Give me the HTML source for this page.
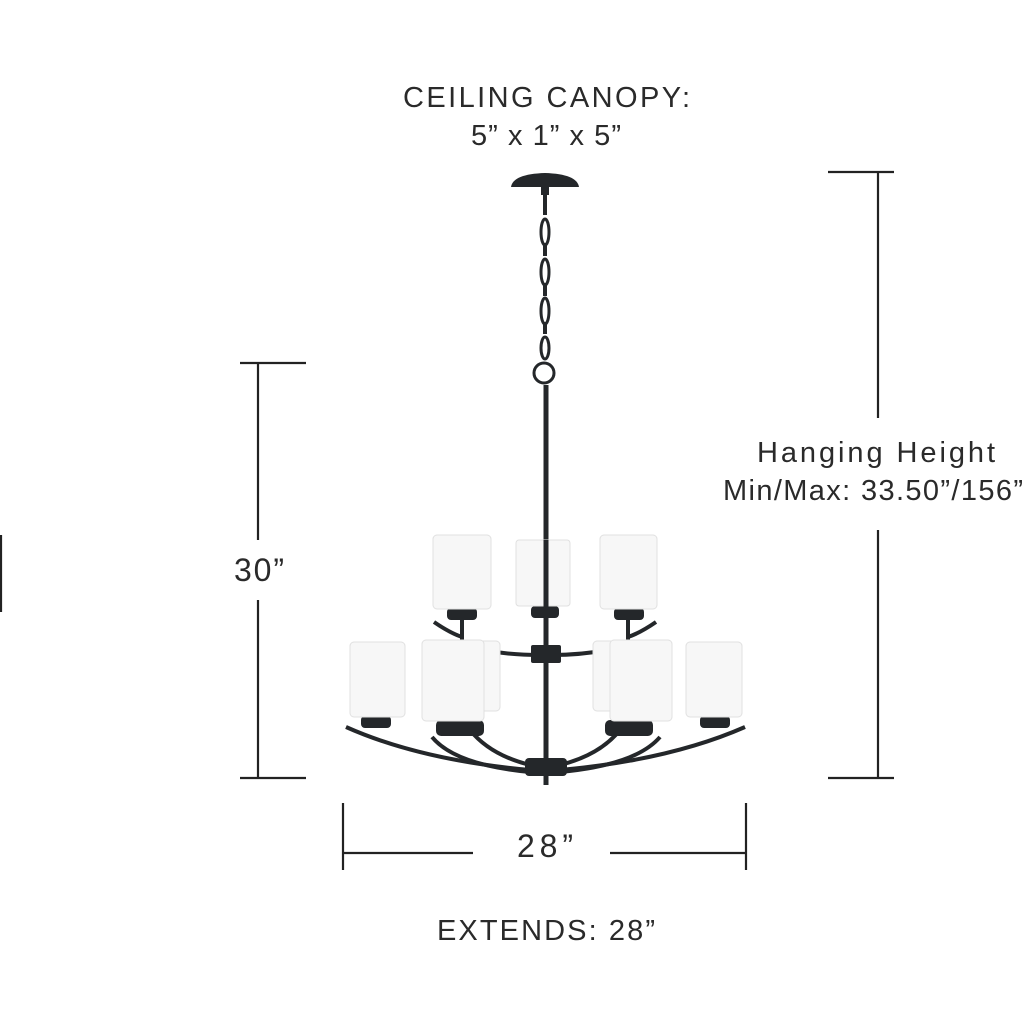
<!DOCTYPE html>
<html><head><meta charset="utf-8"><style>
html,body{margin:0;padding:0;background:#fff;}
svg{display:block;}
text{font-family:"Liberation Sans",sans-serif;fill:#2a2a2a;}
</style></head><body>
<svg width="1024" height="1024" viewBox="0 0 1024 1024" xmlns="http://www.w3.org/2000/svg">
<rect width="1024" height="1024" fill="#fff"/>
<g font-size="29">
<text x="403" y="107" textLength="287" lengthAdjust="spacing">CEILING CANOPY:</text>
<text x="471" y="145" textLength="150" lengthAdjust="spacing">5” x 1” x 5”</text>
<text x="757" y="462" textLength="238" lengthAdjust="spacing">Hanging Height</text>
<text x="723" y="500" textLength="300" lengthAdjust="spacing">Min/Max: 33.50”/156”</text>
<text x="234" y="581" font-size="32" textLength="50" lengthAdjust="spacing">30”</text>
<text x="517" y="857" font-size="32" textLength="56" lengthAdjust="spacing">28”</text>
<text x="437" y="940" textLength="218" lengthAdjust="spacing">EXTENDS: 28”</text>
</g>
<g stroke="#222" stroke-width="2.2" fill="none">
<line x1="878" y1="172" x2="878" y2="418"/><line x1="878" y1="530" x2="878" y2="778"/>
<line x1="828" y1="172" x2="894" y2="172"/><line x1="828" y1="778" x2="894" y2="778"/>
<line x1="258" y1="363" x2="258" y2="540"/><line x1="258" y1="600" x2="258" y2="778"/>
<line x1="240" y1="363" x2="306" y2="363"/><line x1="240" y1="778" x2="306" y2="778"/>
<line x1="1" y1="535" x2="1" y2="612"/>
<line x1="343" y1="803" x2="343" y2="870"/><line x1="746" y1="803" x2="746" y2="870"/>
<line x1="343" y1="853" x2="473" y2="853"/><line x1="610" y1="853" x2="746" y2="853"/>
</g>
<g fill="#24272a" stroke="none">
<path d="M511 187 Q513 174 545 173 Q577 174 579 187 Z"/>
<rect x="541" y="187" width="8" height="8"/>
</g>
<g stroke="#24272a" fill="none" stroke-width="3">
<line x1="545" y1="195" x2="545" y2="215" stroke-width="4"/>
<ellipse cx="545" cy="232" rx="4" ry="13"/>
<line x1="545" y1="243" x2="545" y2="256" stroke-width="4"/>
<ellipse cx="545" cy="272" rx="4" ry="13"/>
<line x1="545" y1="283" x2="545" y2="296" stroke-width="4"/>
<ellipse cx="545" cy="311" rx="4" ry="13"/>
<line x1="545" y1="322" x2="545" y2="334" stroke-width="4"/>
<ellipse cx="545" cy="348" rx="4" ry="11"/>
<circle cx="544" cy="373" r="10"/>
<line x1="546" y1="385" x2="546" y2="785" stroke-width="5"/>
<path d="M483 650 Q510 655 540 655" stroke-width="4"/>
<path d="M608 650 Q580 655 552 655" stroke-width="4"/>
<path d="M434 622 Q450 633 462 637" stroke-width="4"/>
<path d="M656 622 Q640 633 628 637" stroke-width="4"/>
<line x1="462" y1="615" x2="462" y2="640" stroke-width="4"/>
<line x1="628" y1="615" x2="628" y2="640" stroke-width="4"/>
<path d="M346 727 Q420 760 530 770" stroke-width="4"/>
<path d="M745 727 Q670 760 560 770" stroke-width="4"/>
<path d="M432 737 Q455 765 530 772" stroke-width="4"/>
<path d="M660 737 Q636 765 560 772" stroke-width="4"/>
<path d="M470 730 Q490 755 530 765" stroke-width="4"/>
<path d="M620 730 Q600 755 560 765" stroke-width="4"/>
</g>
<g fill="#24272a">
<rect x="531" y="645" width="30" height="18" rx="2"/>
<rect x="525" y="758" width="42" height="18" rx="4"/>
<rect x="447" y="608" width="30" height="12" rx="4"/>
<rect x="531" y="606" width="28" height="12" rx="4"/>
<rect x="614" y="608" width="30" height="12" rx="4"/>
<rect x="361" y="716" width="30" height="12" rx="4"/>
<rect x="436" y="720" width="48" height="16" rx="5"/>
<rect x="605" y="720" width="48" height="16" rx="5"/>
<rect x="700" y="716" width="30" height="12" rx="4"/>
</g>
<g fill="#f7f7f7" stroke="#e0e0e0" stroke-width="1">
<rect x="516" y="540" width="54" height="66" rx="3"/>
<rect x="433" y="535" width="58" height="74" rx="4"/>
<rect x="600" y="535" width="57" height="74" rx="4"/>
<rect x="460" y="641" width="40" height="70" rx="4"/>
<rect x="593" y="641" width="40" height="70" rx="4"/>
<rect x="350" y="642" width="55" height="75" rx="4"/>
<rect x="686" y="642" width="56" height="75" rx="4"/>
<rect x="422" y="640" width="62" height="81" rx="4"/>
<rect x="610" y="640" width="62" height="81" rx="4"/>
</g>
<line x1="546" y1="540" x2="546" y2="610" stroke="#24272a" stroke-width="5"/>
</svg>
</body></html>
